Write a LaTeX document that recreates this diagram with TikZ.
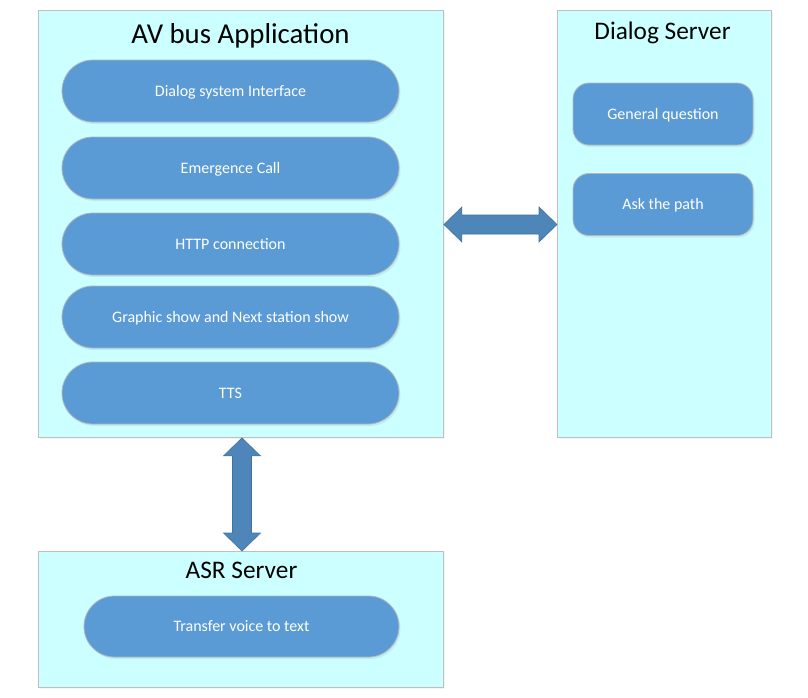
\documentclass[tikz,border=0pt]{standalone}
\usepackage{fontspec}
\setmainfont{Carlito}
\usetikzlibrary{calc,shadows}
\definecolor{boxfill}{HTML}{CCFFFF}
\definecolor{boxline}{HTML}{BFBFBF}
\definecolor{pillfill}{HTML}{5B9BD5}
\definecolor{pillline}{HTML}{B0B8C0}
\definecolor{arrowfill}{HTML}{4E86BA}
\definecolor{arrowline}{HTML}{41719C}
\tikzset{
  panel/.style={draw=boxline, line width=0.9pt, fill=boxfill, anchor=north west, inner sep=0pt,
    drop shadow={opacity=0.08, shadow xshift=1.5pt, shadow yshift=-1.5pt}},
  pill/.style={draw=pillline, line width=0.8pt, fill=pillfill, text=white, inner sep=0pt,
    font=\fontsize{16}{19}\selectfont, text height=10.3pt, text depth=0pt,
    drop shadow={opacity=0.15, shadow xshift=1.5pt, shadow yshift=-2pt}},
  bigpill/.style={pill, minimum width=337pt, minimum height=62pt, rounded corners=30.9pt},
  smallpill/.style={pill, minimum width=180pt, minimum height=62pt, rounded corners=16pt},
  title/.style={anchor=base, inner sep=0pt, text=black},
  fatarrow/.style={fill=arrowfill, draw=arrowline, line width=0.6pt, line join=miter}
}
\begin{document}
\begin{tikzpicture}[x=1pt,y=-1pt]
\useasboundingbox (0,0) rectangle (808,697);
% panels
\node[panel, minimum width=405pt, minimum height=427pt] (av) at (38,10) {};
\node[panel, minimum width=214pt, minimum height=427pt] (ds) at (557,10) {};
\node[panel, minimum width=405pt, minimum height=136pt] (asr) at (38,551) {};
% titles
\node[title, font=\fontsize{28.8}{32}\selectfont] (avt) at (240.5,43) {AV bus Application};
\node[title, font=\fontsize{25.3}{28}\selectfont] (dst) at (662.5,39) {Dialog Server};
\node[title, font=\fontsize{25.3}{28}\selectfont] (asrt) at (241.5,578) {ASR Server};
% AV pills
\node[bigpill] (p1) at (230.5,91) {Dialog system Interface};
\node[bigpill] (p2) at (230.5,168) {Emergence Call};
\node[bigpill] (p3) at (230.5,244) {HTTP connection};
\node[bigpill] (p4) at (230.5,317) {Graphic show and Next station show};
\node[bigpill] (p5) at (230.5,393) {TTS};
% dialog pills
\node[smallpill] (q1) at (663,114) {General question};
\node[smallpill] (q2) at (663,204.5) {Ask the path};
% asr pill
\node[bigpill, minimum width=315pt, minimum height=61pt, rounded corners=30.4pt] (r1) at (241.5,626.5) {Transfer voice to text};
% horizontal double arrow between av and ds
\coordinate (hl) at (av.east |- 0,224.5);
\coordinate (hr) at (ds.west |- 0,224.5);
\draw[fatarrow] (hl) -- ($(hl)+(18,-17.5)$) -- ($(hl)+(18,-9.5)$) -- ($(hr)+(-18,-9.5)$)
  -- ($(hr)+(-18,-17.5)$) -- (hr) -- ($(hr)+(-18,17.5)$) -- ($(hr)+(-18,9.5)$)
  -- ($(hl)+(18,9.5)$) -- ($(hl)+(18,17.5)$) -- cycle;
% vertical double arrow between av and asr
\coordinate (vt) at (242,0 |- av.south);
\coordinate (vb) at (242,0 |- asr.north);
\draw[fatarrow] (vt) -- ($(vt)+(18.5,18)$) -- ($(vt)+(9.5,18)$) -- ($(vb)+(9.5,-18)$)
  -- ($(vb)+(18.5,-18)$) -- (vb) -- ($(vb)+(-18.5,-18)$) -- ($(vb)+(-9.5,-18)$)
  -- ($(vt)+(-9.5,18)$) -- ($(vt)+(-18.5,18)$) -- cycle;
\end{tikzpicture}
\end{document}
